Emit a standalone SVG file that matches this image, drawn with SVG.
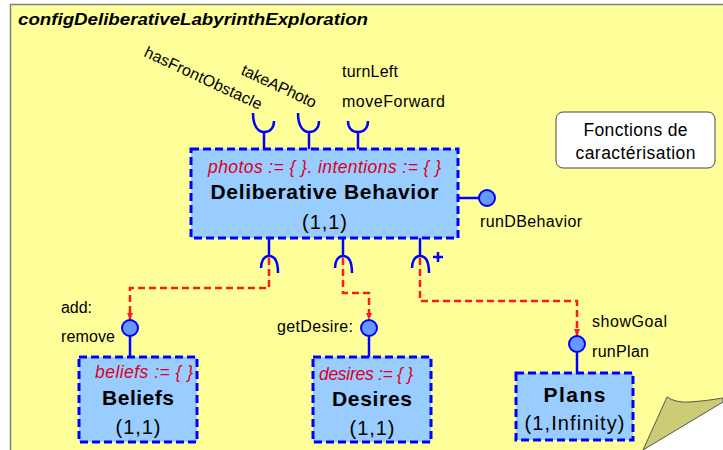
<svg xmlns="http://www.w3.org/2000/svg" width="723" height="450" viewBox="0 0 723 450">
<defs>
<style>
.t{font-family:"Liberation Sans",Arial,sans-serif;fill:#000}
.lbl{font-size:16px}
.attr{font-size:17.5px;font-style:italic;fill:#DD0022;text-anchor:middle}
.name{font-size:21px;font-weight:bold;text-anchor:middle}
.mult{font-size:20px;text-anchor:middle}
.box{fill:#99CCFF;stroke:#0000FF;stroke-width:3;stroke-dasharray:8 4}
.ifc{fill:none;stroke:#0000FF;stroke-width:2.5}
.lolli{fill:#6699FF;stroke:#0000FF;stroke-width:2}
.dep{fill:none;stroke:#FF1A1A;stroke-width:2.5;stroke-dasharray:7 4}
</style>
<marker id="arr" markerUnits="userSpaceOnUse" markerWidth="8" markerHeight="8" refX="7" refY="3" orient="auto">
<path d="M0,0 L7,3 L0,6 z" fill="#FF1A1A"/>
</marker>
</defs>
<rect x="0" y="0" width="723" height="450" fill="#FFFFFF"/>
<rect id="panel" x="10.5" y="4.5" width="720" height="450" fill="#FFFF99" stroke="#808080" stroke-width="1.5"/>
<path d="M643 450 L723 402 L723 450 Z" fill="#FFFFFF"/>
<path d="M643 450 L667 397 Q676 403 690 402 Q706 401 723 398 L723 402 Z" fill="#CCCC77" stroke="#555" stroke-width="1"/>
<text id="title" class="t" x="18" y="25" font-size="17" font-weight="bold" font-style="italic" textLength="350" lengthAdjust="spacingAndGlyphs">configDeliberativeLabyrinthExploration</text>

<g id="connectors">
<path class="dep" d="M269 258 V288 H130 V320" marker-end="url(#arr)"/>
<path class="dep" d="M343 258 V293 H369 V320" marker-end="url(#arr)"/>
<path class="dep" d="M420 258 V301 H577 V336" marker-end="url(#arr)"/>
</g>

<g id="deliberative">
<rect class="box" x="191" y="149" width="267" height="89"/>
<text class="t attr" x="324.5" y="173" textLength="233">photos := { }. intentions := { }</text>
<text class="t name" x="324.5" y="199" textLength="228">Deliberative Behavior</text>
<text class="t mult" x="324.5" y="229" textLength="45">(1,1)</text>
<path class="ifc" d="M253 113 C253 126 258 132 264 132 C270 132 274 128 274 121 M264 132 V149"/>
<path class="ifc" d="M298 113 C298 126 303 132 309 132 C315 132 319 128 319 121 M309 132 V149"/>
<path class="ifc" d="M348 121 C348 128 352 132 358 132 C364 132 368 128 368 121 M358 132 V149"/>
<text class="t lbl" transform="translate(143,56) rotate(25)" textLength="128">hasFrontObstacle</text>
<text class="t lbl" transform="translate(240,74) rotate(25)" textLength="81">takeAPhoto</text>
<text class="t lbl" x="342" y="77" textLength="56">turnLeft</text>
<text class="t lbl" x="342" y="107" textLength="103">moveForward</text>
<path class="ifc" d="M269 238 V256 M261 268 C261 261 264 256 269 256 C275 256 278 262 278 273"/>
<path class="ifc" d="M343 238 V256 M335 268 C335 261 338 256 343 256 C349 256 352 262 352 273"/>
<path class="ifc" d="M420 238 V256 M412 268 C412 261 415 256 420 256 C426 256 429 262 429 273"/>
<path class="ifc" d="M433 257 H443 M438 252 V262"/>
<path class="ifc" d="M458 198 H479" stroke-width="2"/>
<circle class="lolli" cx="487" cy="198" r="8"/>
<text class="t lbl" x="480" y="227" textLength="102">runDBehavior</text>
</g>

<g id="beliefs">
<rect class="box" x="79" y="357" width="118" height="85"/>
<text class="t attr" x="144" y="378" textLength="98">beliefs := { }</text>
<text class="t name" x="138" y="405" textLength="72">Beliefs</text>
<text class="t mult" x="138" y="434" textLength="45">(1,1)</text>
<path class="ifc" d="M130 336 V357" stroke-width="2"/>
<circle class="lolli" cx="130" cy="328" r="8"/>
<text class="t lbl" x="61" y="313" textLength="31">add:</text>
<text class="t lbl" x="61" y="342" textLength="54">remove</text>
</g>

<g id="desires">
<rect class="box" x="313" y="357" width="118" height="85"/>
<text class="t attr" x="366" y="380" textLength="94">desires := { }</text>
<text class="t name" x="372" y="406" textLength="80">Desires</text>
<text class="t mult" x="372" y="435" textLength="45">(1,1)</text>
<path class="ifc" d="M369 336 V357" stroke-width="2"/>
<circle class="lolli" cx="369" cy="328" r="8"/>
<text class="t lbl" x="277" y="332" textLength="76">getDesire:</text>
</g>

<g id="plans">
<rect class="box" x="516" y="373" width="117" height="67"/>
<text class="t name" x="574.5" y="402" textLength="62">Plans</text>
<text class="t mult" x="574.5" y="430" textLength="100">(1,Infinity)</text>
<path class="ifc" d="M577 352 V373" stroke-width="2"/>
<circle class="lolli" cx="577" cy="344" r="8"/>
<text class="t lbl" x="592" y="327" textLength="75">showGoal</text>
<text class="t lbl" x="592" y="357" textLength="57">runPlan</text>
</g>

<g id="note">
<rect x="556" y="112" width="159" height="56" rx="7" fill="#FFFFFF" stroke="#444" stroke-width="1"/>
<text class="t" x="635.5" y="136" font-size="17.5" text-anchor="middle" textLength="104">Fonctions de</text>
<text class="t" x="635.5" y="159" font-size="17.5" text-anchor="middle" textLength="120">caractérisation</text>
</g>
</svg>
